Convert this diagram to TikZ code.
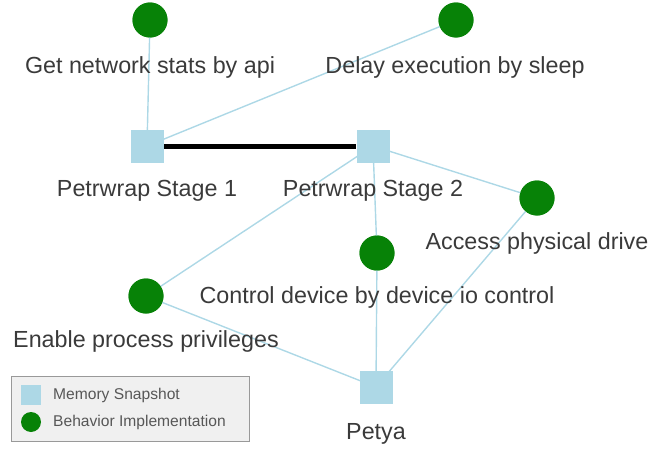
\documentclass[tikz,border=0pt]{standalone}
\usepackage{fontspec}
\setmainfont{Liberation Sans}
\definecolor{beh}{HTML}{078207}
\definecolor{snapc}{HTML}{ADD8E6}
\definecolor{edgec}{HTML}{ADD8E6}
\definecolor{txt}{HTML}{3A3A3A}
\begin{document}
\begin{tikzpicture}[x=1pt,y=-1pt,
  snap/.style={rectangle,fill=snapc,minimum size=33pt,inner sep=0pt},
  beh/.style={circle,fill=beh,minimum size=35pt,inner sep=0pt},
  lbl/.style={text=txt,font=\fontsize{23.3}{26}\selectfont,inner sep=0pt},
  legt/.style={text=txt!85,font=\fontsize{15.6}{18}\selectfont,anchor=west,inner sep=0pt},
  edge/.style={draw=edgec,line width=1.4pt},
  strong/.style={draw=black,line width=5pt}]
\useasboundingbox (0,0) rectangle (649,450);
% nodes
\node[beh] (c1) at (150,20) {};
\node[beh] (c2) at (456,20) {};
\node[snap] (s1) at (147,146) {};
\node[snap] (s2) at (373,146) {};
\node[beh] (ad) at (537,198) {};
\node[beh] (cd) at (377,253) {};
\node[beh] (ep) at (146,296) {};
\node[snap] (pe) at (376,387) {};
% edges
\path[edge] (c1.center) -- (s1.center);
\path[edge] (c2.center) -- (s1.center);
\path[edge] (s2.center) -- (ad.center);
\path[edge] (s2.center) -- (cd.center);
\path[edge] (s2.center) -- (ep.center);
\path[edge] (pe.center) -- (ep.center);
\path[edge] (pe.center) -- (cd.center);
\path[edge] (pe.center) -- (ad.center);
\path[strong] (s1.east) -- (s2.west);
% redraw nodes on top
\node[beh] at (c1) {};
\node[beh] at (c2) {};
\node[snap] at (s1) {};
\node[snap] at (s2) {};
\node[beh] at (ad) {};
\node[beh] at (cd) {};
\node[beh] at (ep) {};
\node[snap] at (pe) {};
% labels
\node[lbl] (l1) at (150,67) {Get network stats by api};
\node[lbl] (l2) at (455,67) {Delay execution by sleep};
\node[lbl] (l3) at (147,191) {Petrwrap Stage 1};
\node[lbl] (l4) at (373,191) {Petrwrap Stage 2};
\node[lbl] (l5) at (537,243) {Access physical drive};
\node[lbl] (l6) at (377,297) {Control device by device io control};
\node[lbl] (l7) at (146,341) {Enable process privileges};
\node[lbl] (l8) at (376,434) {Petya};
% legend
\node[draw=gray!80,fill=gray!12,line width=0.8pt,minimum width=238pt,minimum height=65pt,inner sep=0pt] (leg) at (130,408.5) {};
\node[rectangle,fill=snapc,minimum size=20pt,inner sep=0pt] (ls) at (31,395) {};
\node[circle,fill=beh,minimum size=20pt,inner sep=0pt] (lc) at (31,422) {};
\node[legt] (lt1) at (53,395) {Memory Snapshot};
\node[legt] (lt2) at (53,422) {Behavior Implementation};
\end{tikzpicture}
\end{document}
